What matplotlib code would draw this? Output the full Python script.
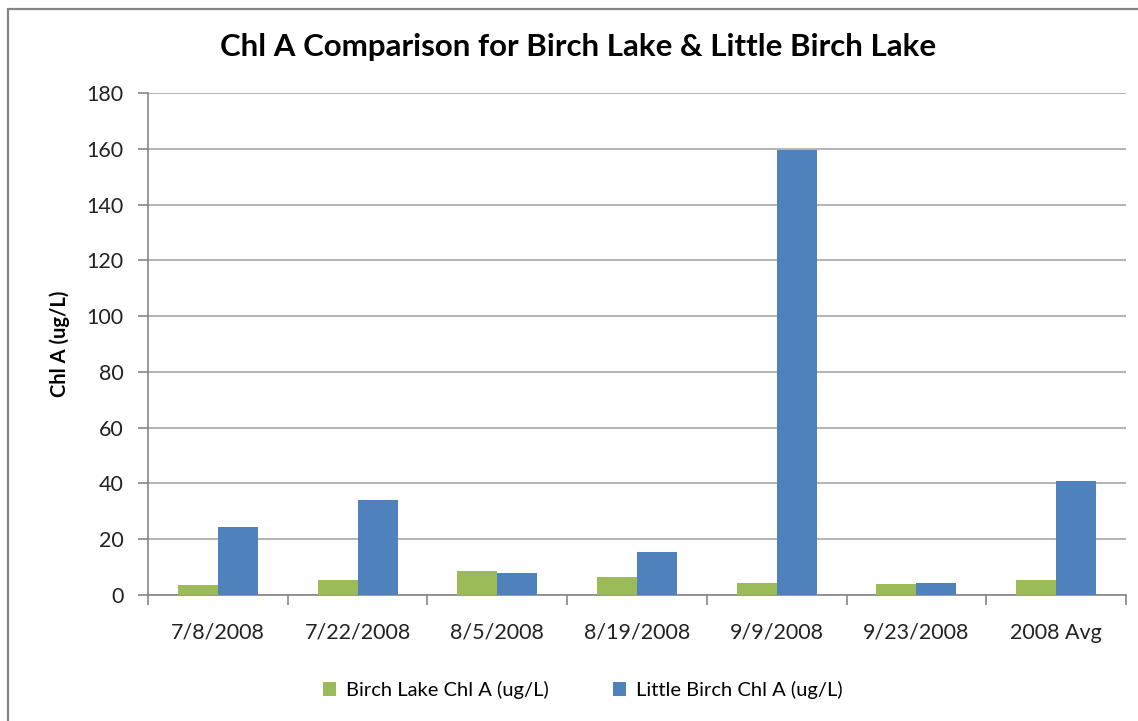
import matplotlib
matplotlib.use('Agg')
import matplotlib.pyplot as plt
from matplotlib.patches import Rectangle
import numpy as np

# ── data ──────────────────────────────────────────────────────────────
dates = ['7/8/2008', '7/22/2008', '8/5/2008', '8/19/2008',
         '9/9/2008', '9/23/2008', '2008 Avg']
birch = [3.6, 5.4, 8.6, 6.6, 4.2, 3.8, 5.4]
little_birch = [24.4, 34.1, 7.8, 15.4, 159.5, 4.2, 40.9]

GREEN = '#9BBB59'
BLUE = '#4F81BD'
GRID = '#A6A6A6'
AXIS = '#868686'
FONT = 'Lato'

fig = plt.figure(figsize=(11.38, 7.21), dpi=100)
ax = fig.add_axes([148 / 1138, 1 - 595 / 721, (1126 - 148) / 1138, (595 - 93) / 721])

x = np.arange(len(dates))
w = 0.286
b1 = ax.bar(x - w / 2, birch, w, color=GREEN, label='Birch Lake Chl A (ug/L)', zorder=3)
b2 = ax.bar(x + w / 2, little_birch, w, color=BLUE, label='Little Birch Chl A (ug/L)', zorder=3)

ax.set_xlim(-0.5, len(dates) - 0.5)
ax.set_ylim(0, 180)
ax.set_yticks(np.arange(0, 181, 20))
ax.yaxis.grid(True, color=GRID, lw=1.2, zorder=0)

# category labels centred, tick marks on the boundaries
ax.set_xticks(x)
ax.set_xticklabels(dates, fontsize=15.5, family=FONT, color='#222222')
ax.set_xticks(np.arange(-0.5, len(dates)), minor=True)
ax.tick_params(axis='x', which='major', length=0, pad=20)
ax.tick_params(axis='x', which='minor', length=7.5, color=AXIS, width=1.2)
ax.tick_params(axis='y', length=7.5, color=AXIS, width=1.2, pad=10)
for lab in ax.get_yticklabels():
    lab.set_fontsize(15.5)
    lab.set_family(FONT)
    lab.set_color('#222222')

for s in ['top', 'right']:
    ax.spines[s].set_visible(False)
for s in ['left', 'bottom']:
    ax.spines[s].set_color(AXIS)
    ax.spines[s].set_linewidth(1.2)

ax.set_ylabel('Chl A (ug/L)', fontsize=14.5, fontweight='bold', family=FONT, labelpad=12)

fig.text(578 / 1138, 1 - 47 / 721, 'Chl A Comparison for Birch Lake & Little Birch Lake',
         ha='center', va='center', fontsize=22.5, fontweight='bold', family=FONT)

fig.legend(handles=[b1, b2], loc='center', bbox_to_anchor=(583 / 1138, 1 - 690 / 721),
           ncol=2, frameon=False, prop={'family': FONT, 'size': 14.5},
           handlelength=0.65, handleheight=0.65, handletextpad=0.5, columnspacing=3.2)

# outer chart frame
fig.patches.append(Rectangle((8 / 1138, -0.05), 1.0, 1 - 9 / 721 + 0.05,
                             transform=fig.transFigure, fill=False,
                             edgecolor=AXIS, lw=1.6))

fig.savefig('out.png', dpi=100, facecolor='white')
